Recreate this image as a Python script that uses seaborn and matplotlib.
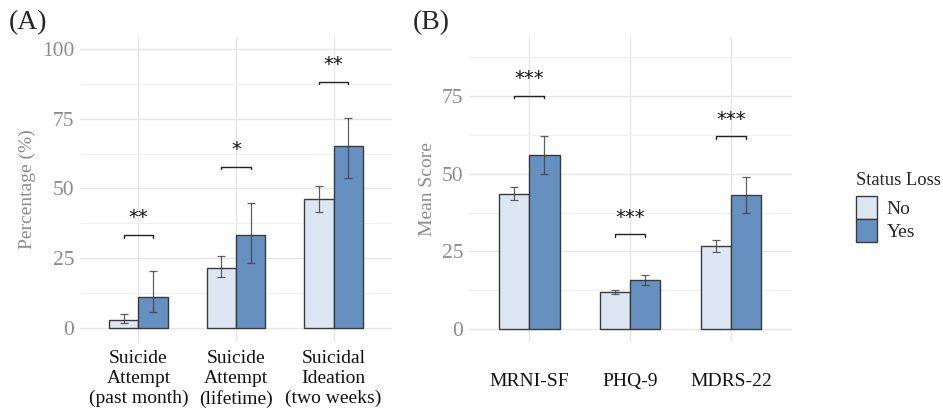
import numpy as np
import pandas as pd
import matplotlib
matplotlib.use("Agg")
import matplotlib.pyplot as plt
import seaborn as sns
from matplotlib.patches import Patch
from matplotlib.ticker import MultipleLocator

# ---- data ----
cats_a = ["Suicide\nAttempt\n(past month)", "Suicide\nAttempt\n(lifetime)", "Suicidal\nIdeation\n(two weeks)"]
no_a = [2.9, 21.6, 46.1]
yes_a = [11.1, 33.3, 65.2]
no_a_lo = [1.7, 18.1, 41.4]
no_a_hi = [5.1, 25.8, 51.0]
yes_a_lo = [5.7, 23.4, 53.7]
yes_a_hi = [20.4, 44.9, 75.4]
sig_a = ["**", "*", "**"]
br_a = [33.3, 57.7, 88.3]

cats_b = ["MRNI-SF", "PHQ-9", "MDRS-22"]
no_b = [43.6, 11.9, 26.7]
yes_b = [56.0, 15.9, 43.2]
no_b_lo = [41.7, 11.3, 24.9]
no_b_hi = [45.6, 12.6, 28.6]
yes_b_lo = [50.0, 14.3, 37.5]
yes_b_hi = [62.3, 17.5, 49.1]
sig_b = ["***", "***", "***"]
br_b = [75.1, 30.5, 62.1]

groups = ["No", "Yes"]
colors = {"No": "#dde7f3", "Yes": "#6590bf"}

sns.set_theme(style="whitegrid")
plt.rcParams["font.family"] = ["Liberation Serif", "DejaVu Serif"]

fig = plt.figure(figsize=(9.43, 4.11), dpi=100)
axA = fig.add_axes([0.0848, 0.168, 0.331, 0.742])
axB = fig.add_axes([0.497, 0.168, 0.3425, 0.742])


def panel(ax, cats, no, yes, nlo, nhi, ylo, yhi, sig, br, ylim, ylabel, major, minor):
    df = pd.DataFrame({
        "cat": cats * 2,
        "grp": ["No"] * len(cats) + ["Yes"] * len(cats),
        "val": list(no) + list(yes),
        "lo": list(nlo) + list(ylo),
        "hi": list(nhi) + list(yhi),
    })
    sns.barplot(data=df, x="cat", y="val", hue="grp", hue_order=groups,
                palette=colors, saturation=1, width=0.6, errorbar=None, ax=ax,
                edgecolor="#3a3a3a", linewidth=1.0, legend=False, zorder=3)
    # error bars from bar patches
    for bars, g in zip(ax.containers, groups):
        sub = df[df["grp"] == g]
        xs = [p.get_x() + p.get_width() / 2 for p in bars]
        vals = sub["val"].values
        ax.errorbar(xs, vals, yerr=[vals - sub["lo"].values, sub["hi"].values - vals],
                    fmt="none", ecolor="#444444", elinewidth=0.9, capsize=3,
                    capthick=0.9, alpha=0.85, zorder=4)
    # significance brackets
    for i, (s, y) in enumerate(zip(sig, br)):
        tick = (ylim[1] - ylim[0]) * 0.008
        ax.plot([i - 0.15, i - 0.15, i + 0.15, i + 0.15], [y - tick, y, y, y - tick],
                color="#222222", lw=1.0, zorder=5)
        ax.text(i, y + (ylim[1] - ylim[0]) * 0.025, s, ha="center", va="bottom",
                fontsize=14, family="DejaVu Sans", color="#111111")
    ax.set_xlim(-0.6, len(cats) - 0.4)
    ax.set_ylim(*ylim)
    ax.yaxis.set_major_locator(MultipleLocator(major))
    ax.yaxis.set_minor_locator(MultipleLocator(minor))
    ax.grid(True, which="major", color="#e6e6e6", lw=1.0, zorder=0)
    ax.grid(True, which="minor", axis="y", color="#f0f0f0", lw=0.8, zorder=0)
    ax.set_xlabel("")
    ax.set_ylabel(ylabel, fontsize=14, color="#8c8c8c")
    ax.tick_params(axis="y", labelsize=15.5, labelcolor="#8c8c8c", length=0, pad=4)
    ax.tick_params(axis="x", labelsize=14, labelcolor="#111111", length=0, pad=6)
    for sp in ax.spines.values():
        sp.set_visible(False)
    ax.set_facecolor("white")


panel(axA, cats_a, no_a, yes_a, no_a_lo, no_a_hi, yes_a_lo, yes_a_hi, sig_a, br_a,
      (-5.0, 104.3), "Percentage (%)", 25, 12.5)
panel(axB, cats_b, no_b, yes_b, no_b_lo, no_b_hi, yes_b_lo, yes_b_hi, sig_b, br_b,
      (-4.2, 94.1), "Mean Score", 25, 12.5)
axA.set_yticks([0, 25, 50, 75, 100])
axB.set_yticks([0, 25, 50, 75])
axB.tick_params(axis="x", pad=22)

fig.text(0.009, 0.975, "(A)", fontsize=20, va="top", ha="left")
fig.text(0.438, 0.975, "(B)", fontsize=20, va="top", ha="left")

handles = [Patch(facecolor=colors[g], edgecolor="#3a3a3a", linewidth=1.0, label=g) for g in groups]
leg = fig.legend(handles=handles, title="Status Loss", loc="upper left",
                 bbox_to_anchor=(0.899, 0.60), frameon=False, fontsize=14,
                 title_fontsize=13.4, handlelength=1.1, handleheight=1.45,
                 handletextpad=0.5, labelspacing=0.0, borderaxespad=0)
leg._legend_box.align = "left"
leg._legend_box.sep = 5

fig.savefig("out.png", dpi=100, facecolor="white")
